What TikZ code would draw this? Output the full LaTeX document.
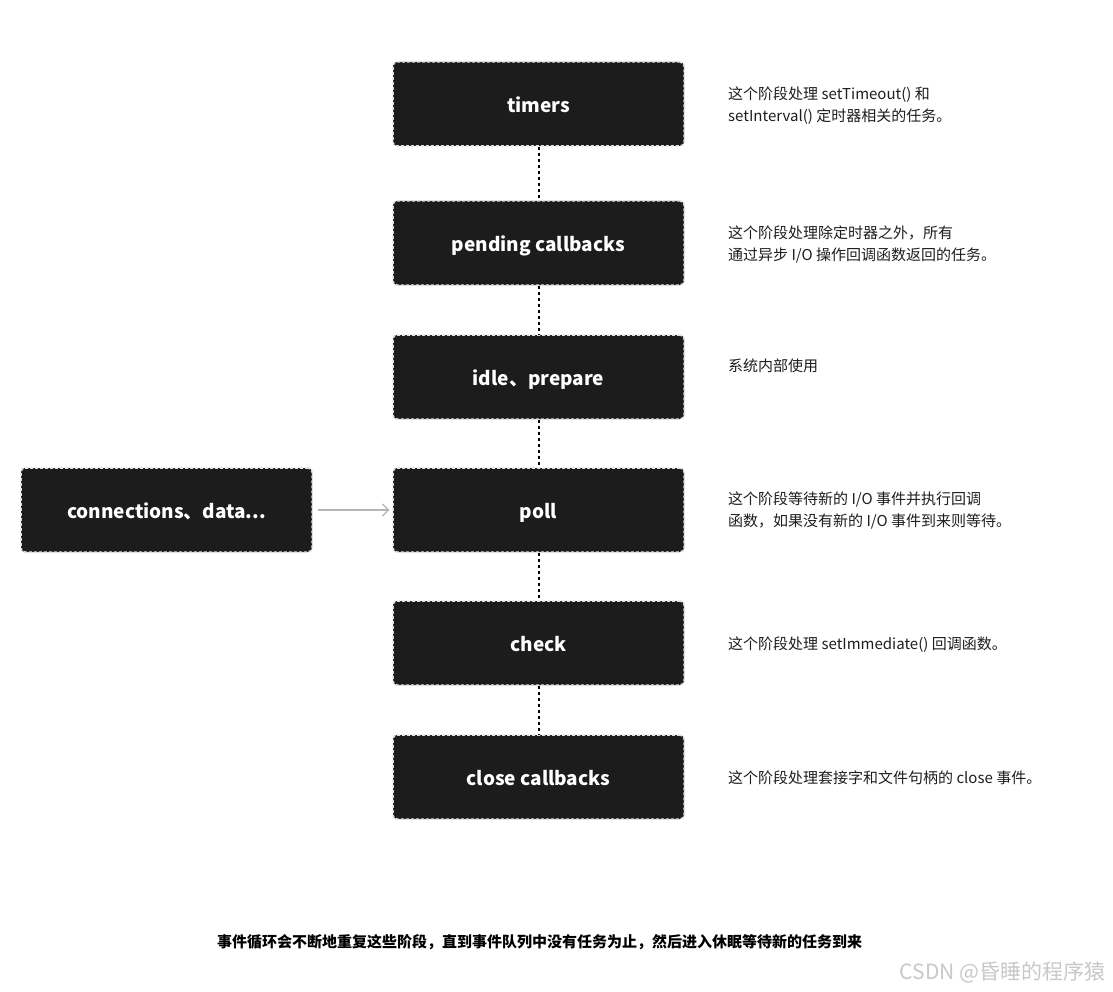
\documentclass[tikz,border=0pt]{standalone}
\usepackage{fontspec}
\setmainfont{Noto Sans CJK SC}
\usepackage{xcolor}
\usetikzlibrary{arrows.meta}
\definecolor{boxfill}{HTML}{1C1C1C}
\definecolor{boxedge}{HTML}{E0E0E0}
\definecolor{feedc}{HTML}{B4B4B4}
\definecolor{descc}{HTML}{1E1E1E}
\definecolor{markc}{HTML}{C8C8C8}
\tikzset{
  phase/.style={draw=boxedge, fill=boxfill, dash pattern=on 3pt off 2pt, line width=1.5pt,
    rounded corners=4pt, minimum width=291pt, minimum height=84pt,
    text height=17pt, text depth=0pt,
    text=white, font=\fontsize{19}{22}\selectfont\bfseries},
  link/.style={draw=black, line width=2pt, dash pattern=on 3pt off 3pt},
  feed/.style={draw=feedc, line width=1.1pt, -{Straight Barb[length=6pt,width=12pt]},
    shorten <=5pt, shorten >=3pt},
  desc/.style={anchor=west, align=left, inner sep=0pt, text=descc, font=\fontsize{15}{22}\selectfont},
  note/.style={text=black, font=\fontsize{15}{18}\selectfont\bfseries},
  wmark/.style={anchor=east, text=markc, font=\fontsize{21}{24}\selectfont}
}
\begin{document}
\begin{tikzpicture}[x=1pt, y=-1pt]
  \useasboundingbox[fill=white] (0,0) rectangle (1113,992);

  \node[phase] (timers)  at (538.5,104) {timers};
  \node[phase] (pending) at (538.5,243) {pending callbacks};
  \node[phase] (idle)    at (538.5,377) {idle、prepare};
  \node[phase] (poll)    at (538.5,510) {poll};
  \node[phase] (check)   at (538.5,643) {check};
  \node[phase] (close)   at (538.5,777) {close callbacks};
  \node[phase] (conn)    at (166.5,510) {connections、data...};

  % phases in order
  \draw[link] (timers) -- (pending);
  \draw[link] (pending) -- (idle);
  \draw[link] (idle) -- (poll);
  \draw[link] (poll) -- (check);
  \draw[link] (check) -- (close);

  \draw[feed] (conn) -- (poll);

  \node[desc] (dtimers)  at (728,106) {这个阶段处理 setTimeout() 和\\setInterval() 定时器相关的任务。};
  \node[desc] (dpending) at (728,244) {这个阶段处理除定时器之外，所有\\通过异步 I/O 操作回调函数返回的任务。};
  \node[desc] (didle)    at (728,366) {系统内部使用};
  \node[desc] (dpoll)    at (728,510) {这个阶段等待新的 I/O 事件并执行回调\\函数，如果没有新的 I/O 事件到来则等待。};
  \node[desc] (dcheck)   at (728,645) {这个阶段处理 setImmediate() 回调函数。};
  \node[desc] (dclose)   at (728,778) {这个阶段处理套接字和文件句柄的 close 事件。};

  \node[note] (loop) at (539.5,942) {事件循环会不断地重复这些阶段，直到事件队列中没有任务为止，然后进入休眠等待新的任务到来};
  \node[wmark] (csdn) at (1109,972) {CSDN @昏睡的程序猿};
\end{tikzpicture}
\end{document}
